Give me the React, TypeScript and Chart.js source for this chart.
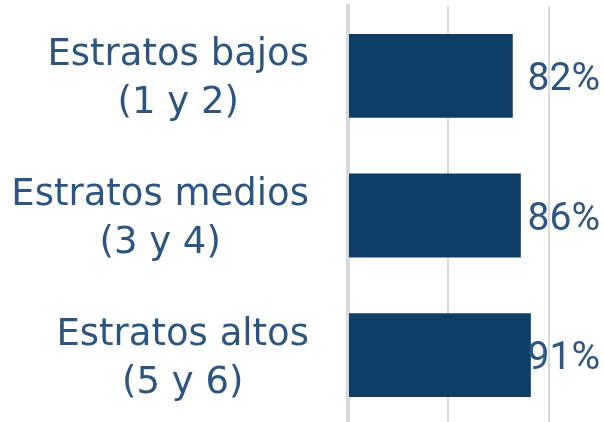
import React, { useEffect, useRef } from "react";
import { Chart, registerables } from "chart.js";

Chart.register(...registerables);

const categoryLines: string[][] = [
  ["Estratos bajos", "(1 y 2)"],
  ["Estratos medios", "(3 y 4)"],
  ["Estratos altos", "(5 y 6)"],
];
const categories: string[] = categoryLines.map((l) => l.join(" "));
const values: number[] = [82, 86, 91];
const valueLabels: string[] = ["82%", "86%", "91%"];
const gridValues: number[] = [50, 100];

const TEXT = "#2c5681";
const BAR = "#0e3d66";
const GRID = "#d9d9d9";

const labelPlugin = {
  id: "blockLabels",
  afterDraw(chart: any) {
    const ctx = chart.ctx as CanvasRenderingContext2D;
    const yScale = chart.scales.y;
    const meta = chart.getDatasetMeta(0);
    ctx.save();
    ctx.fillStyle = TEXT;
    ctx.textBaseline = "alphabetic";
    // category labels: block right-aligned, lines centred within the block
    ctx.font = '37px "DejaVu Sans"';
    ctx.textAlign = "center";
    const blockRight = 309;
    categoryLines.forEach((lines, i) => {
      const cy = yScale.getPixelForValue(i);
      const widths = lines.map((l) => ctx.measureText(l).width);
      const cx = blockRight - Math.max(...widths) / 2;
      const n = lines.length;
      lines.forEach((l, j) => {
        ctx.fillText(l, cx, cy - (n - 1) * 24 + 13.5 + j * 48);
      });
    });
    // value labels
    ctx.font = "39px Roboto";
    ctx.textAlign = "left";
    valueLabels.forEach((t, i) => {
      const bar = meta.data[i];
      const w = ctx.measureText(t).width;
      const x = Math.min(bar.x + 16, 600 - w);
      ctx.fillText(t, x, bar.y + 14);
    });
    ctx.restore();
  },
};

export default function App() {
  const ref = useRef<HTMLCanvasElement | null>(null);
  useEffect(() => {
    if (!ref.current) return;
    const chart = new Chart(ref.current, {
      type: "bar",
      data: {
        labels: categories,
        datasets: [
          {
            data: values,
            backgroundColor: BAR,
            borderWidth: 0,
            barPercentage: 0.6,
            categoryPercentage: 1,
          },
        ],
      },
      options: {
        indexAxis: "y",
        animation: false,
        responsive: false,
        devicePixelRatio: 1,
        layout: { padding: { top: 6, bottom: 5, left: 0, right: 0 } },
        plugins: {
          legend: { display: false },
          tooltip: { enabled: false },
        },
        scales: {
          x: {
            min: 0,
            max: 127.4,
            ticks: { display: false, stepSize: 50, includeBounds: false },
            grid: {
              drawTicks: false,
              lineWidth: 2,
              color: (c: any) =>
                c.tick && gridValues.includes(c.tick.value) ? GRID : "rgba(0,0,0,0)",
            },
            border: { display: false },
            afterFit: (s: any) => {
              s.height = 0;
            },
          },
          y: {
            z: 1,
            ticks: { display: false },
            grid: { display: false, drawTicks: false },
            border: { display: true, color: GRID, width: 4 },
            afterFit: (s: any) => {
              s.width = 348;
            },
          },
        },
      },
      plugins: [labelPlugin],
    });
    return () => chart.destroy();
  }, []);
  return (
    <div
      style={{
        position: "absolute",
        left: 0,
        top: 0,
        width: 604,
        height: 422,
        overflow: "hidden",
        background: "#ffffff",
      }}
    >
      <canvas ref={ref} width={604} height={430} style={{ width: 604, height: 430, display: "block" }} />
    </div>
  );
}
